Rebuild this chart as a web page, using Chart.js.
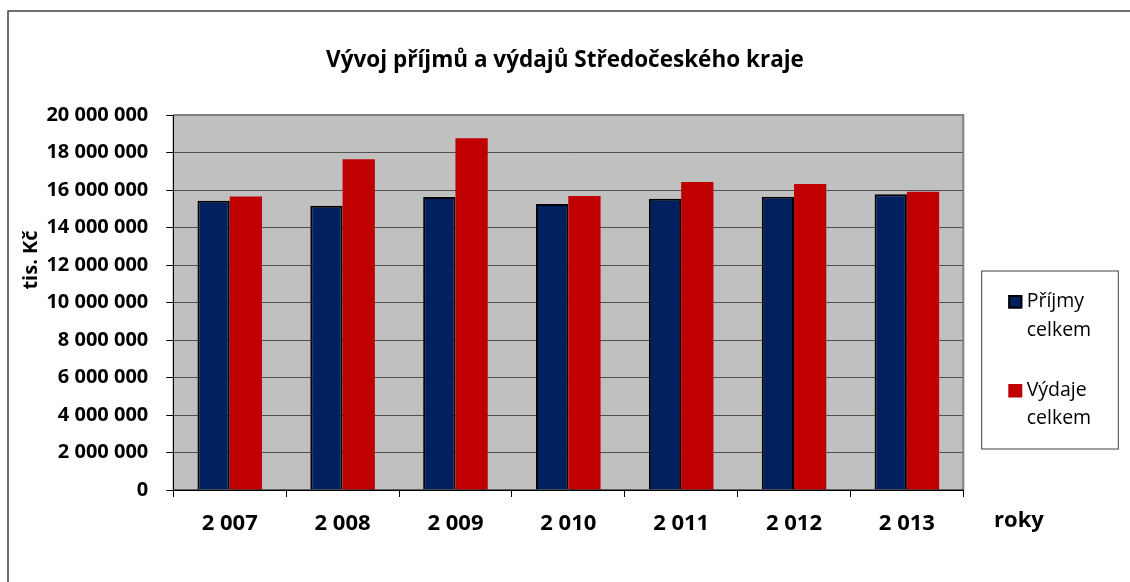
<!DOCTYPE html>
<html>
<head>
<meta charset="utf-8">
<script src="https://cdn.jsdelivr.net/npm/chart.js@4.4.1/dist/chart.umd.min.js"></script>
<style>
  html, body { margin: 0; padding: 0; background: #fff; overflow: hidden; }
  #c { width: 1130px; height: 582px; display: block; }
</style>
</head>
<body>
<canvas id="c" width="1130" height="582"></canvas>
<script>
const categories = ['2 007', '2 008', '2 009', '2 010', '2 011', '2 012', '2 013'];
const prijmy = [15430000, 15160000, 15630000, 15250000, 15540000, 15640000, 15770000];
const vydaje = [15660000, 17640000, 18760000, 15680000, 16430000, 16320000, 15910000];
const seriesNames = ['Příjmy celkem', 'Výdaje celkem'];
const titleText = 'Vývoj příjmů a výdajů Středočeského kraje';
const yTitle = 'tis. Kč';
const xTitle = 'roky';
const yMin = 0, yMax = 20000000, yStep = 2000000;

const FONT = '"Open Sans", "Noto Sans", sans-serif';
const BLUE = '#002060';
const RED = '#C00000';

function fmt(v) {
  return String(Math.round(v)).replace(/\B(?=(\d{3})+(?!\d))/g, ' ');
}

const decor = {
  id: 'decor',
  beforeDraw(chart) {
    const ctx = chart.ctx, a = chart.chartArea;
    ctx.save();
    ctx.fillStyle = '#fff';
    ctx.fillRect(0, 0, chart.width, chart.height);
    ctx.strokeStyle = '#404040';
    ctx.lineWidth = 1.5;
    ctx.strokeRect(8, 11, chart.width + 20, chart.height + 20);
    ctx.fillStyle = '#C0C0C0';
    ctx.fillRect(a.left, a.top, a.right - a.left, a.bottom - a.top);
    ctx.restore();
  },
  afterDraw(chart) {
    const ctx = chart.ctx, a = chart.chartArea;
    ctx.save();
    ctx.strokeStyle = '#808080';
    ctx.lineWidth = 2;
    ctx.beginPath();
    ctx.moveTo(a.left, a.top);
    ctx.lineTo(a.right, a.top);
    ctx.lineTo(a.right, a.bottom);
    ctx.stroke();
    ctx.strokeStyle = '#000';
    ctx.lineWidth = 1;
    ctx.beginPath();
    ctx.moveTo(a.left, a.top);
    ctx.lineTo(a.left, a.bottom);
    ctx.lineTo(a.right, a.bottom);
    ctx.stroke();

    ctx.fillStyle = '#000';
    ctx.textAlign = 'center';
    ctx.textBaseline = 'alphabetic';
    ctx.font = 'bold 22.5px ' + FONT;
    ctx.fillText(titleText, 565, 67);

    ctx.save();
    ctx.translate(31, 260);
    ctx.rotate(-Math.PI / 2);
    ctx.font = 'bold 20px ' + FONT;
    ctx.textAlign = 'center';
    ctx.textBaseline = 'middle';
    ctx.fillText(yTitle, 0, 0);
    ctx.restore();

    ctx.font = 'bold 22px ' + FONT;
    ctx.textAlign = 'center';
    ctx.textBaseline = 'alphabetic';
    ctx.fillText(xTitle, 1019, 527);

    const lx = 981.7, ly = 271, lw = 136.6, lh = 178;
    ctx.strokeStyle = '#404040';
    ctx.lineWidth = 1;
    ctx.strokeRect(lx, ly, lw, lh);
    const ds = chart.data.datasets;
    const rows = [[301.7, 330], [390, 418]];
    const marks = [295, 384];
    ds.forEach((d, i) => {
      ctx.fillStyle = d.backgroundColor;
      ctx.fillRect(1008.3, marks[i], 14, 13.5);
      if (i === 0) {
        ctx.strokeStyle = '#000';
        ctx.lineWidth = 2;
        ctx.strokeRect(1009.3, marks[i] + 1, 12, 11.5);
      }
      const parts = d.label.split(' ');
      ctx.fillStyle = '#000';
      ctx.font = '19.5px ' + FONT;
      ctx.textAlign = 'left';
      ctx.textBaseline = 'middle';
      ctx.fillText(parts[0], 1026.7, rows[i][0]);
      ctx.fillText(parts[1], 1026.7, rows[i][1]);
    });
    ctx.restore();
  }
};

new Chart(document.getElementById('c'), {
  type: 'bar',
  data: {
    labels: categories,
    datasets: [
      { label: seriesNames[0], data: prijmy, backgroundColor: BLUE, borderColor: '#000', borderWidth: 2, borderSkipped: 'bottom', categoryPercentage: 0.572, barPercentage: 1 },
      { label: seriesNames[1], data: vydaje, backgroundColor: RED, borderWidth: 0, categoryPercentage: 0.572, barPercentage: 1 }
    ]
  },
  options: {
    responsive: false,
    devicePixelRatio: 1,
    animation: false,
    layout: { padding: { top: 115, right: 166.7, bottom: 52, left: 0 } },
    plugins: { legend: { display: false }, title: { display: false }, tooltip: { enabled: false } },
    scales: {
      x: {
        afterFit(s) { s.height = 40; },
        grid: { display: true, drawOnChartArea: false, offset: true, tickLength: 7, tickColor: '#000', color: '#000' },
        border: { display: true, color: '#000' },
        ticks: { color: '#000', font: { family: FONT, size: 22, weight: 'bold' }, padding: 14, maxRotation: 0 }
      },
      y: {
        min: yMin, max: yMax,
        afterFit(s) { s.width = 173.3; },
        grid: { color: '#505050', lineWidth: 1, tickLength: 7, tickColor: '#000' },
        border: { display: true, color: '#000' },
        ticks: { stepSize: yStep, color: '#000', font: { family: FONT, size: 20, weight: 'bold' }, padding: 18, callback: v => fmt(v) }
      }
    }
  },
  plugins: [decor]
});
</script>
</body>
</html>
